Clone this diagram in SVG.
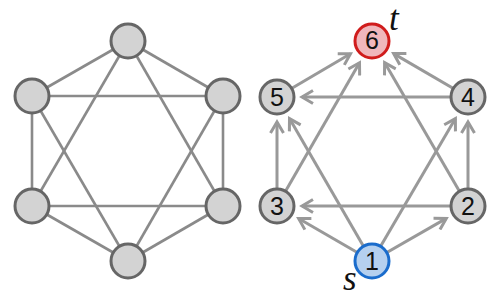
<svg xmlns="http://www.w3.org/2000/svg" width="500" height="303" viewBox="0 0 500 303">
<style>
.n{fill:#d3d3d3;stroke:#666;stroke-width:3}
.e{stroke:#8a8a8a;stroke-width:2.6;fill:none}
.a{stroke:#999;stroke-width:3;fill:none;marker-end:url(#ah)}
.lbl{font-family:"Liberation Sans",Arial,sans-serif;font-size:25px;fill:#111;text-anchor:middle}
.it{font-family:"Liberation Serif","Times New Roman",serif;font-style:italic;font-size:35px;fill:#111}
</style>
<defs>
<marker id="ah" markerUnits="userSpaceOnUse" viewBox="-13 -8 16 16" refX="0" refY="0" markerWidth="16" markerHeight="16" orient="auto">
<path d="M-11,-6.5 L0,0 L-11,6.5" fill="none" stroke="#999" stroke-width="3" stroke-linejoin="miter"/>
</marker>
</defs>
<g id="left-edges">
<line class="e" x1="128" y1="41" x2="32" y2="96"/>
<line class="e" x1="128" y1="41" x2="223" y2="96"/>
<line class="e" x1="32" y1="96" x2="223" y2="96"/>
<line class="e" x1="32" y1="96" x2="32" y2="206"/>
<line class="e" x1="223" y1="96" x2="223" y2="206"/>
<line class="e" x1="32" y1="206" x2="223" y2="206"/>
<line class="e" x1="32" y1="206" x2="128" y2="261"/>
<line class="e" x1="223" y1="206" x2="128" y2="261"/>
<line class="e" x1="128" y1="41" x2="32" y2="206"/>
<line class="e" x1="128" y1="41" x2="223" y2="206"/>
<line class="e" x1="32" y1="96" x2="128" y2="261"/>
<line class="e" x1="223" y1="96" x2="128" y2="261"/>
</g>
<g id="left-nodes">
<circle id="L-top" class="n" cx="128" cy="41" r="17"/>
<circle id="L-ul" class="n" cx="32" cy="96" r="17"/>
<circle id="L-ur" class="n" cx="223" cy="96" r="17"/>
<circle id="L-ll" class="n" cx="32" cy="206" r="17"/>
<circle id="L-lr" class="n" cx="223" cy="206" r="17"/>
<circle id="L-bot" class="n" cx="128" cy="261" r="17"/>
</g>
<g id="connectors">
<line class="a" x1="372" y1="261" x2="298.6" y2="218.5"/>
<line class="a" x1="372" y1="261" x2="446.3" y2="218.4"/>
<line class="a" x1="372" y1="261" x2="289.5" y2="118.6"/>
<line class="a" x1="372" y1="261" x2="455.4" y2="118.6"/>
<line class="a" x1="468" y1="206" x2="302" y2="206"/>
<line class="a" x1="468" y1="206" x2="468" y2="122"/>
<line class="a" x1="468" y1="206" x2="384.6" y2="62.6"/>
<line class="a" x1="277" y1="206" x2="277" y2="122"/>
<line class="a" x1="277" y1="206" x2="359.5" y2="62.7"/>
<line class="a" x1="468" y1="97" x2="302" y2="97"/>
<line class="a" x1="468" y1="97" x2="393.6" y2="53.6"/>
<line class="a" x1="277" y1="97" x2="350.5" y2="53.7"/>
</g>
<g id="n1"><circle cx="372" cy="261" r="17" style="fill:#b5d0ef;stroke:#1a6ccc;stroke-width:3"/><text class="lbl" x="372" y="270">1</text></g>
<g id="n2"><circle class="n" cx="468" cy="206" r="17"/><text class="lbl" x="468" y="215">2</text></g>
<g id="n3"><circle class="n" cx="277" cy="206" r="17"/><text class="lbl" x="277" y="215">3</text></g>
<g id="n4"><circle class="n" cx="468" cy="97" r="17"/><text class="lbl" x="468" y="106">4</text></g>
<g id="n5"><circle class="n" cx="277" cy="97" r="17"/><text class="lbl" x="277" y="106">5</text></g>
<g id="n6"><circle cx="372" cy="41" r="17" style="fill:#f0b7bc;stroke:#d01c1c;stroke-width:3"/><text class="lbl" x="372" y="49">6</text></g>
<text class="it" x="389" y="30">t</text>
<text class="it" x="343" y="290">s</text>
</svg>
